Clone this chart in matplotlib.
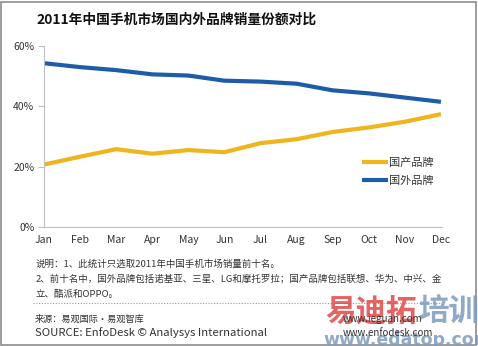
import matplotlib
matplotlib.use('Agg')
import matplotlib.pyplot as plt
from matplotlib.patches import Rectangle

plt.rcParams['font.family'] = ['Noto Sans CJK SC', 'DejaVu Sans']

months = ['Jan', 'Feb', 'Mar', 'Apr', 'May', 'Jun',
          'Jul', 'Aug', 'Sep', 'Oct', 'Nov', 'Dec']
domestic = [20.7, 23.3, 25.8, 24.3, 25.5, 24.8, 27.8, 29.1, 31.5, 33.0, 34.9, 37.4]
foreign = [54.3, 53.0, 52.0, 50.6, 50.2, 48.5, 48.2, 47.5, 45.3, 44.3, 42.9, 41.5]
series_names = ['国产品牌', '国外品牌']
y_ticks = [0, 20, 40, 60]

title = '2011年中国手机市场国内外品牌销量份额对比'
notes = ['说明：1、此统计只选取2011年中国手机市场销量前十名。',
         '2、前十名中，国外品牌包括诺基亚、三星、LG和摩托罗拉；国产品牌包括联想、华为、中兴、金',
         '立、酷派和OPPO。']
source_cn = '来源：易观国际·易观智库'
source_en = 'SOURCE: EnfoDesk © Analysys International'
urls = ['www.ieguan.com', 'www.enfodesk.com']

YELLOW = '#F0B41C'
BLUE = '#1F5CA8'


def main():
    W, H = 478, 346
    fig = plt.figure(figsize=(W / 100, H / 100), dpi=100)
    ax = fig.add_axes([44 / W, 1 - 227 / H, (442 - 44) / W, (227 - 46) / H])

    x = list(range(len(months)))
    ax.plot(x, domestic, color=YELLOW, lw=3, solid_capstyle='butt', label=series_names[0])
    ax.plot(x, foreign, color=BLUE, lw=3, solid_capstyle='butt', label=series_names[1])

    ax.set_xlim(0, 11.03)
    ax.set_ylim(0, 60)
    ax.set_xticks(x)
    ax.set_xticklabels(months)
    ax.set_yticks(y_ticks)
    ax.set_yticklabels(['{}%'.format(v) for v in y_ticks])
    ax.tick_params(axis='x', length=0, pad=6, labelsize=7.5, colors='#333333')
    ax.tick_params(axis='y', length=4, width=0.8, color='#BFBFBF', pad=3,
                   labelsize=7.5, labelcolor='#333333')
    for s in ['top', 'right']:
        ax.spines[s].set_visible(False)
    for s in ['left', 'bottom']:
        ax.spines[s].set_color('#BFBFBF')
        ax.spines[s].set_linewidth(0.8)

    leg = ax.legend(loc='upper left', bbox_to_anchor=((358 - 44) / 398, (227 - 153) / 181),
                    frameon=False, fontsize=8, handlelength=2.3, handletextpad=0.1,
                    labelspacing=0.75, borderaxespad=0)
    for t in leg.get_texts():
        t.set_color('#333333')

    fig.text(36 / W, 1 - 20 / H, title, fontsize=9.9, fontweight='bold',
             va='center', ha='left', color='#111111')

    note_y = [264, 279, 294]
    for t, yy in zip(notes, note_y):
        fig.text(36 / W, 1 - yy / H, t, fontsize=6.8, va='center', color='#333333')

    # dotted separator
    fig.add_artist(plt.Line2D([33 / W, 440 / W], [1 - 303 / H, 1 - 303 / H],
                              color='#999999', lw=0.8, ls=(0, (1, 1.5))))

    # watermark
    fig.text(325 / W, 1 - 312 / H, '易迪拓', fontsize=22, fontweight='bold',
             color='#E04848', alpha=0.85, va='center', ha='left')
    fig.text(418 / W, 1 - 312 / H, '培训', fontsize=22, fontweight='bold',
             color='#7D9BBE', alpha=0.85, va='center', ha='left')
    fig.text(323 / W, 1 - 340 / H, 'www.edatop.com', fontsize=12.5, fontweight='bold',
             color='#7D9BBE', alpha=0.85, va='center', ha='left', family='DejaVu Sans')

    fig.text(35 / W, 1 - 319 / H, source_cn, fontsize=6.6, va='center', color='#333333')
    fig.text(35 / W, 1 - 333 / H, source_en, fontsize=8.2, va='center', color='#333333')
    fig.text(343 / W, 1 - 319 / H, urls[0], fontsize=7, va='center', color='#333333')
    fig.text(343 / W, 1 - 333 / H, urls[1], fontsize=7, va='center', color='#333333')

    # outer frame
    fig.add_artist(Rectangle((1 / W, 1 / H), (W - 3) / W, (H - 3) / H,
                             fill=False, ec='#8C8C8C', lw=1.2, transform=fig.transFigure))

    fig.savefig('out.png', dpi=100)


if __name__ == '__main__':
    main()
